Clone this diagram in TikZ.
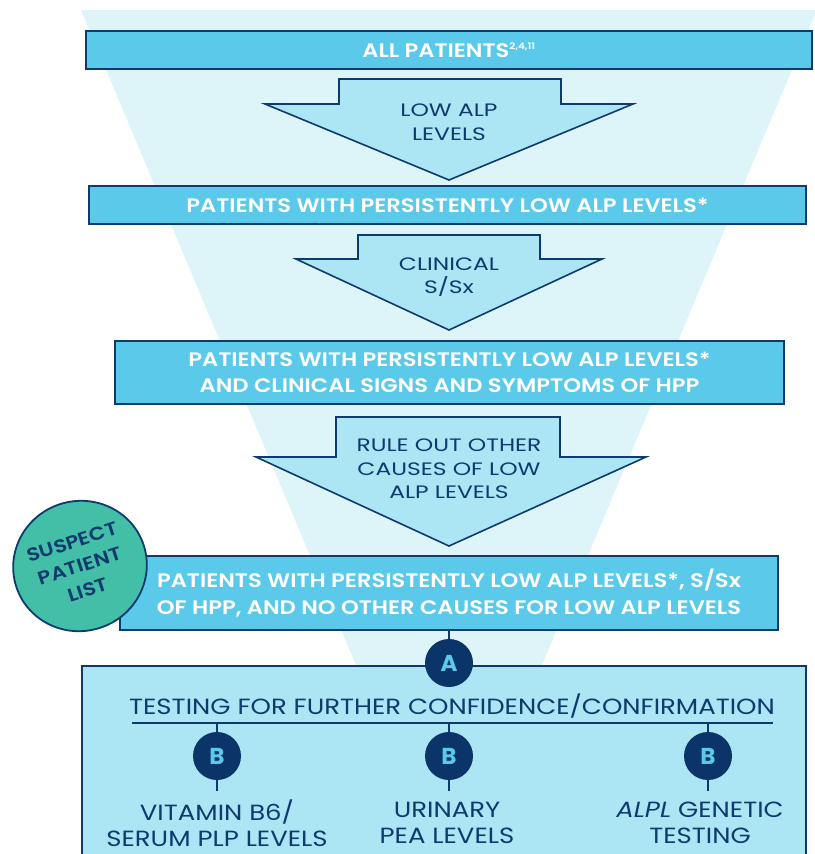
\documentclass[tikz,border=0pt]{standalone}
\usepackage{fontspec}
\setmainfont{Poppins}
\IfFontExistsTF{Poppins SemiBold}
  {\newfontfamily\barfont{Poppins SemiBold}[FakeStretch=1.16]}
  {\newfontfamily\barfont{Poppins}[FakeStretch=1.12]\let\oldbarfont\barfont\def\barfont{\oldbarfont\bfseries}}
\newfontfamily\arrfont{Poppins}[FakeStretch=1.30]
\newfontfamily\lblfont{Poppins}[FakeStretch=1.18]
\usetikzlibrary{shapes.geometric}
\definecolor{navy}{HTML}{0E3A6E}
\definecolor{funnelc}{HTML}{DDF4F9}
\definecolor{barc}{HTML}{5BC9E9}
\definecolor{arrc}{HTML}{ACE5F3}
\definecolor{tealc}{HTML}{42BFA6}
\definecolor{dotc}{HTML}{0B3468}
\tikzset{
  bar/.style={draw=navy, line width=1.8pt, fill=barc, text=white, font=\barfont\fontsize{19.5}{26}\selectfont, align=center, inner sep=0pt},
  arrowshape/.style={draw=navy, line width=1.6pt, fill=arrc, line join=miter},
  arrtext/.style={text=navy, font=\arrfont\fontsize{18}{23.5}\selectfont, align=center},
  dot/.style={circle, fill=dotc, minimum size=48pt, inner sep=0pt, text=barc, font=\bfseries\fontsize{23}{23}\selectfont},
  lbl/.style={text=navy, font=\lblfont\fontsize{22}{26}\selectfont, align=center},
  link/.style={draw=navy, line width=1.4pt}
}
\begin{document}
\begin{tikzpicture}[x=1pt,y=-1pt]
\useasboundingbox (0,0) rectangle (814,854);
% funnel
\fill[funnelc] (81,10) -- (817,10) -- (542,665) -- (356,665) -- cycle;
% bars
\node[bar, minimum width=726pt, minimum height=38pt] (b1) at (449,50) {ALL PATIENTS\textsuperscript{\fontsize{9}{9}\selectfont 2,4,11}};
\node[bar, minimum width=717pt, minimum height=38pt] (b2) at (447.5,205) {PATIENTS WITH PERSISTENTLY LOW ALP LEVELS*};
\node[bar, minimum width=669pt, minimum height=63pt] (b3) at (449.5,372.5) {PATIENTS WITH PERSISTENTLY LOW ALP LEVELS*\\AND CLINICAL SIGNS AND SYMPTOMS OF HPP};
\node[bar, minimum width=658pt, minimum height=74pt, font=\barfont\fontsize{19.5}{27}\selectfont] (b4) at (449,593) {PATIENTS WITH PERSISTENTLY LOW ALP LEVELS*, S/Sx\\OF HPP, AND NO OTHER CAUSES FOR LOW ALP LEVELS};
% arrows
\draw[arrowshape] (339,79) -- (561,79) -- (561,104) -- (633,104) -- (449,180) -- (265,104) -- (339,104) -- cycle;
\node[arrtext] (a1) at (449,122) {LOW ALP\\LEVELS};
\draw[arrowshape] (358,235) -- (540,235) -- (540,259) -- (602,259) -- (449,330) -- (296,259) -- (358,259) -- cycle;
\node[arrtext] (a2) at (449,277) {CLINICAL\\S/Sx};
\draw[arrowshape] (336,417) -- (560,417) -- (560,457) -- (646,457) -- (449,546) -- (256,457) -- (336,457) -- cycle;
\node[arrtext] (a3) at (449,469) {RULE OUT OTHER\\CAUSES OF LOW\\ALP LEVELS};
% bottom box
\node[draw=navy, line width=1.8pt, fill=arrc, minimum width=724pt, minimum height=200pt, anchor=north west, inner sep=0pt] (box) at (81,665) {};
\node[dot] (A) at (449,663) {A};
\draw[link] (b4.south) -- (A.north);
\node[lbl] (test) at (452,706) {TESTING FOR FURTHER CONFIDENCE/CONFIRMATION};
\coordinate (ul) at (132,723);
\coordinate (ur) at (773,723);
\draw[link, line width=2pt] (ul) -- (ur);
\node[dot] (B1) at (217,756) {B};
\node[dot] (B2) at (449,756) {B};
\node[dot] (B3) at (708,756) {B};
\foreach \n/\x in {B1/217,B2/449,B3/708}{
  \coordinate (\n t) at (\x,723);
  \coordinate (\n b) at (\x,791);
  \draw[link] (\n t) -- (\n.north);
  \draw[link] (\n.south) -- (\n b);
}
\node[lbl] (l1) at (217,823) {VITAMIN B6/\\SERUM PLP LEVELS};
\node[lbl] (l2) at (447,823) {URINARY\\PEA LEVELS};
\node[lbl] (l3) at (700,823) {\textit{ALPL} GENETIC\\TESTING};
% suspect list
\node[ellipse, draw=navy, line width=1.8pt, fill=tealc, minimum width=134pt, minimum height=130pt, rotate=18, text=navy, font=\barfont\fontsize{18.5}{25}\selectfont, align=center, inner sep=0pt] (sus) at (80,566) {SUSPECT\\PATIENT\\LIST};
\end{tikzpicture}
\end{document}
